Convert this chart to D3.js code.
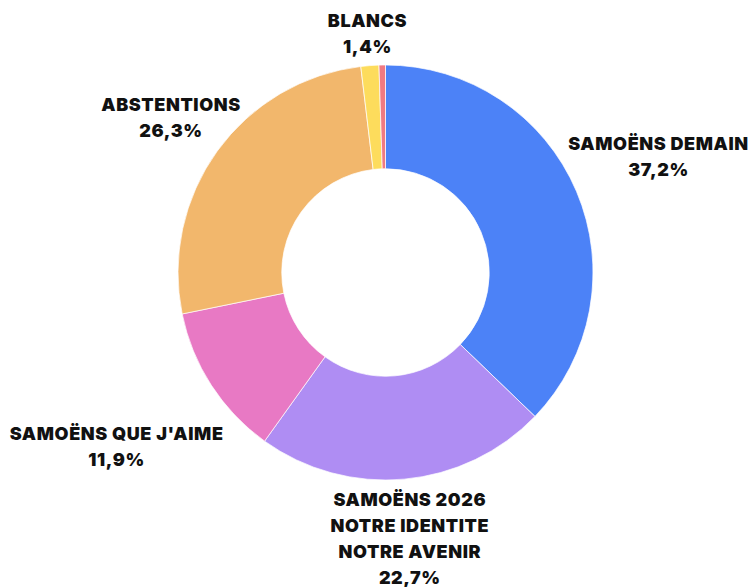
<!DOCTYPE html>
<html><head><meta charset="utf-8">
<script src="https://cdn.jsdelivr.net/npm/d3@7"></script>
<style>
body{margin:0;background:#fff}
</style>
</head><body>
<svg id="chart" width="753" height="587"></svg>
<script>
// ---- data ----
const categories = ["Samoëns Demain", "Samoëns 2026 Notre Identite Notre Avenir", "Samoëns que j'aime", "Abstentions", "Blancs", "Nuls"];
const labelLines = [
  ["SAMOËNS DEMAIN"],
  ["SAMOËNS 2026", "NOTRE IDENTITE", "NOTRE AVENIR"],
  ["SAMOËNS QUE J'AIME"],
  ["ABSTENTIONS"],
  ["BLANCS"],
  []
];
const values = [37.2, 22.7, 11.9, 26.3, 1.4, 0.5];
const valueLabels = ["37,2%", "22,7%", "11,9%", "26,3%", "1,4%", ""];
const colors = ["#4c82f7", "#af8df3", "#e879c4", "#f2b76c", "#fddc5c", "#f07a82"];

// ---- layout ----
const cx = 385.5, cy = 272.5, R = 207.5, r0 = 103.75;
const fontSize = 18, lineH = 26, capH = fontSize * 0.727;
const labelPad = [-1.5, 7, 12.5, -11, 9.5, 0];

const svg = d3.select("#chart");
const g = svg.append("g").attr("transform", `translate(${cx},${cy})`);

const pie = d3.pie().sort(null).value(d => d);
const arcs = pie(values);
const arc = d3.arc().innerRadius(r0).outerRadius(R);

g.selectAll("path.slice").data(arcs).join("path")
  .attr("class", "slice")
  .attr("d", arc)
  .attr("fill", (d, i) => colors[i])
  .attr("stroke", "#fff")
  .attr("stroke-width", 0.7);

const lg = svg.append("g");
arcs.forEach((d, i) => {
  if (!labelLines[i].length) return;
  const lines = labelLines[i].concat([valueLabels[i]]);
  const t = lg.append("text")
    .attr("text-anchor", "middle")
    .attr("font-family", "Inter, 'Noto Sans', sans-serif")
    .attr("font-weight", 900)
    .attr("font-size", fontSize)
    .attr("letter-spacing", "0.6px")
    .attr("fill", "#111");
  lines.forEach((s, k) => t.append("tspan").attr("x", 0).attr("y", k * lineH).text(s));
  const b = t.node().getBBox();
  const hw = b.width / 2;
  const hh = ((lines.length - 1) * lineH + capH) / 2;
  const a = (d.startAngle + d.endAngle) / 2;
  const ux = Math.sin(a), uy = -Math.cos(a);
  const dist = R + labelPad[i] + hw * Math.abs(ux) + hh * Math.abs(uy);
  const tx = cx + ux * dist;
  const tyCenter = cy + uy * dist;
  const ty = tyCenter - ((lines.length - 1) * lineH - capH) / 2;
  t.attr("transform", `translate(${tx},${ty})`);
});
</script>
</body></html>
